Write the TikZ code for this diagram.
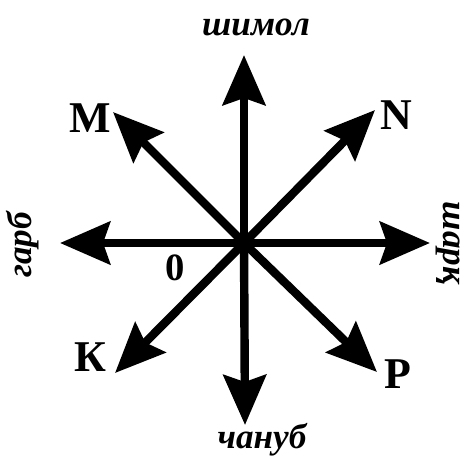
\documentclass[tikz,border=0pt]{standalone}
\usepackage{fontspec}
\setmainfont{Liberation Serif}
\usetikzlibrary{arrows.meta}

\tikzset{
  ray/.style={line width=4.8pt, -{Stealth[length=1.0cm, width=0.85cm, inset=0.14cm]}},
  letter/.style={font=\fontsize{25}{28}\selectfont\bfseries},
  side/.style={inner sep=0.5pt, font=\fontsize{20}{22}\selectfont\bfseries\itshape}
}

\begin{document}
\begin{tikzpicture}[x=0.02cm, y=-0.02cm]
  \useasboundingbox (0,0) rectangle (473,461);

  \coordinate (o) at (244,243);
  \coordinate (n) at (244,55);
  \coordinate (s) at (245,425);
  \coordinate (w) at (60,243);
  \coordinate (e) at (430,243);
  \coordinate (nw) at (113,112);
  \coordinate (ne) at (375,110);
  \coordinate (sw) at (115,373);
  \coordinate (se) at (377,372);

  \foreach \t in {n,s,w,e,nw,ne,sw,se}
    \draw[ray] (o) -- (\t);

  \node[letter] (M) at (90,118) {M};
  \node[letter] (N) at (396,115) {N};
  \node[letter] (K) at (90,357) {К};
  \node[letter] (P) at (398,374) {P};
  \node[letter, font=\fontsize{22}{24}\selectfont\bfseries] (zero) at (175,268) {0};

  \node[side] (north) at (256,27) {шимол};
  \node[side] (south) at (262,440) {чануб};
  \node[side, rotate=90] (west) at (23,245) {гарб};
  \node[side, rotate=-90] (east) at (448,243) {шарқ};
\end{tikzpicture}
\end{document}
